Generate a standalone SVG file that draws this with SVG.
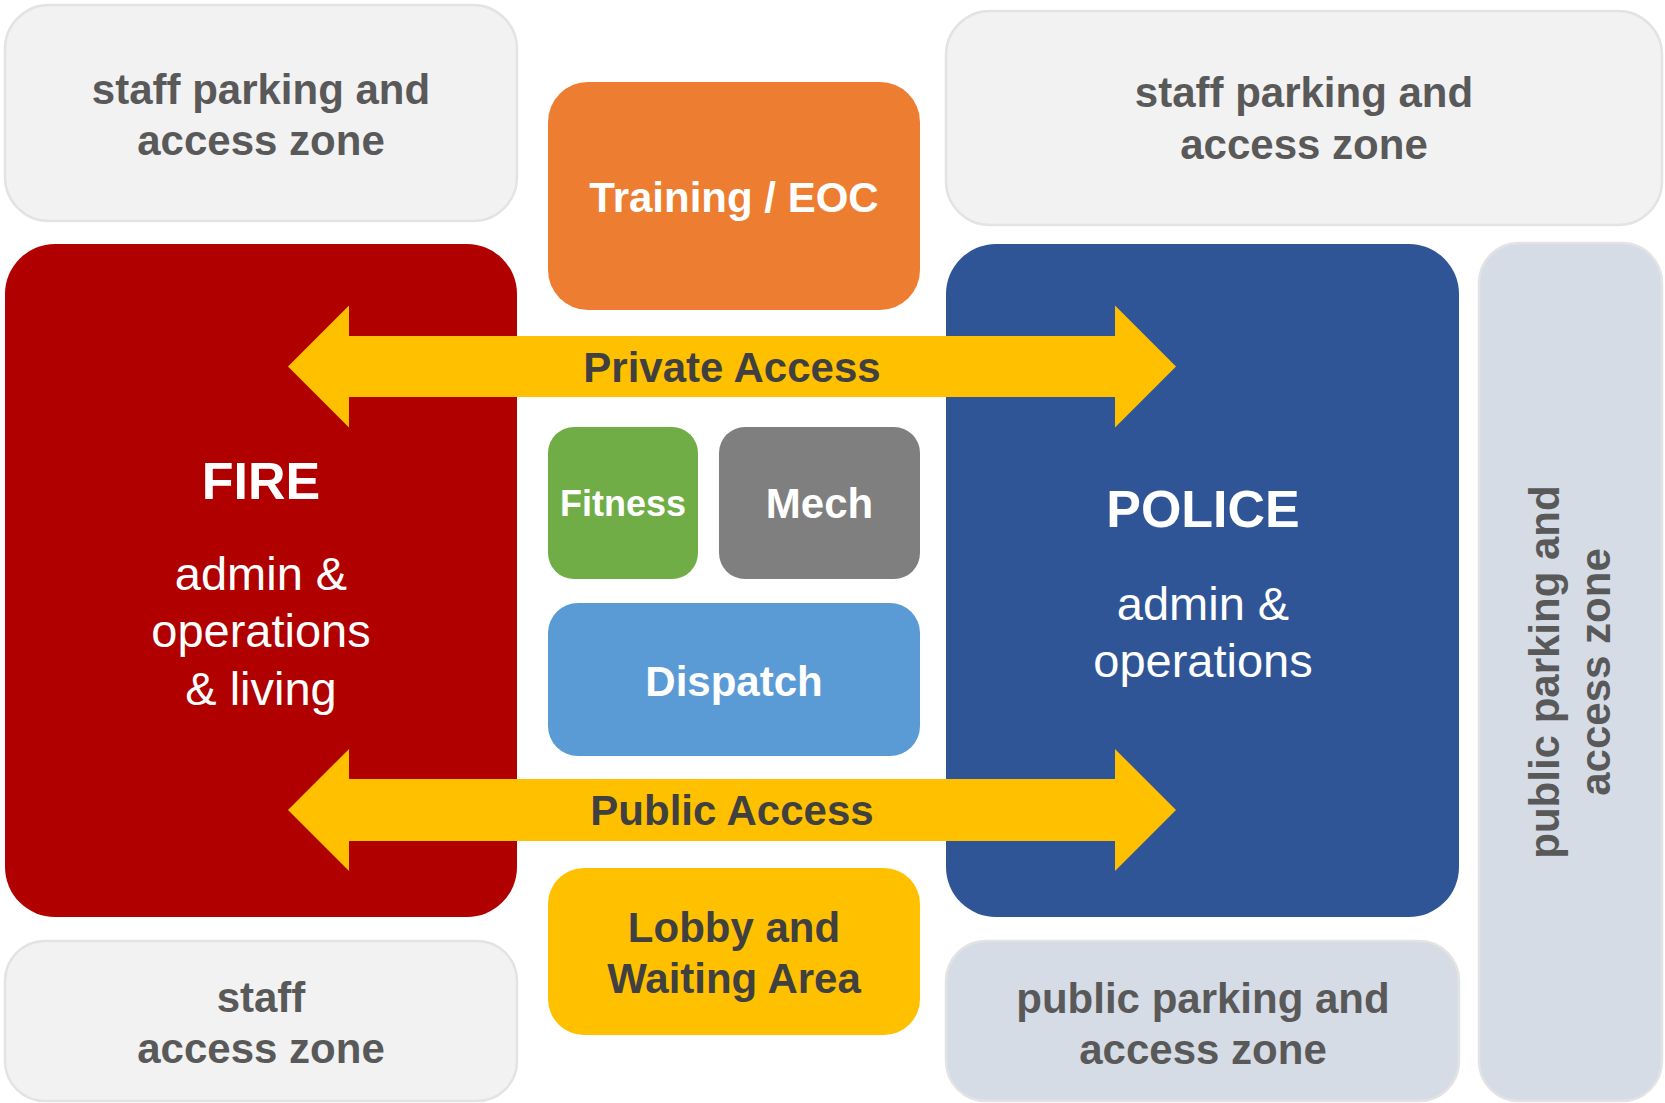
<svg xmlns="http://www.w3.org/2000/svg" width="1665" height="1103" viewBox="0 0 1665 1103">
<style>
text{font-family:"Liberation Sans",Arial,sans-serif;text-anchor:middle}
.zone{fill:#F2F2F2;stroke:#E3E3E3;stroke-width:2.5}
.pzone{fill:#D6DCE5;stroke:#E3E3E3;stroke-width:2.5}
.zt{font-size:42px;font-weight:bold;fill:#595959}
.wt{font-size:42px;font-weight:bold;fill:#FFFFFF}
.dt{font-size:42px;font-weight:bold;fill:#404040}
.big{font-size:52px;font-weight:bold;fill:#FFFFFF}
.reg{font-size:47px;fill:#FFFFFF}
.arrow{fill:#FFC000}
</style>
<rect width="1665" height="1103" fill="#FFFFFF"/>
<g id="staff-parking-left">
<rect class="zone" x="5" y="5" width="512" height="216" rx="44"/>
<text class="zt" x="261" y="104">staff parking and</text>
<text class="zt" x="261" y="155">access zone</text>
</g>
<g id="staff-parking-right">
<rect class="zone" x="946" y="11" width="716" height="214" rx="44"/>
<text class="zt" x="1304" y="107">staff parking and</text>
<text class="zt" x="1304" y="159">access zone</text>
</g>
<g id="training">
<rect x="548" y="82" width="372" height="228" rx="40" fill="#ED7D31"/>
<text class="wt" x="734" y="212">Training / EOC</text>
</g>
<g id="fire">
<rect x="5" y="244" width="512" height="673" rx="50" fill="#B00000"/>
</g>
<g id="police">
<rect x="946" y="244" width="513" height="673" rx="50" fill="#2F5597"/>
</g>
<g id="public-parking-right">
<rect class="pzone" x="1479" y="243" width="183" height="858" rx="40"/>
<g transform="translate(1570,672) rotate(-90)">
<text class="zt" x="0" y="-11">public parking and</text>
<text class="zt" x="0" y="40">access zone</text>
</g>
</g>
<g id="fitness">
<rect x="548" y="427" width="150" height="152" rx="26" fill="#70AD47"/>
<text x="623" y="516" style="font-size:36px;font-weight:bold;fill:#FFFFFF">Fitness</text>
</g>
<g id="mech">
<rect x="719" y="427" width="201" height="152" rx="26" fill="#7F7F7F"/>
<text class="wt" x="819.5" y="518">Mech</text>
</g>
<g id="dispatch">
<rect x="548" y="603" width="372" height="153" rx="30" fill="#5B9BD5"/>
<text class="wt" x="734" y="696">Dispatch</text>
</g>
<g id="lobby">
<rect x="548" y="868" width="372" height="167" rx="36" fill="#FFC000"/>
<text class="dt" x="734" y="942">Lobby and</text>
<text class="dt" x="734" y="993">Waiting Area</text>
</g>
<g id="staff-access">
<rect class="zone" x="5" y="941" width="512" height="160" rx="40"/>
<text class="zt" x="261" y="1012">staff</text>
<text class="zt" x="261" y="1063">access zone</text>
</g>
<g id="public-parking-bottom">
<rect class="pzone" x="946" y="941" width="513" height="160" rx="40"/>
<text class="zt" x="1203" y="1013">public parking and</text>
<text class="zt" x="1203" y="1064">access zone</text>
</g>
<g id="connectors">
<polygon class="arrow" points="288,366.5 349,305.5 349,336 1115,336 1115,305.5 1176,366.5 1115,427.5 1115,397 349,397 349,427.5"/>
<polygon class="arrow" points="288,810 349,749 349,779 1115,779 1115,749 1176,810 1115,871 1115,841 349,841 349,871"/>
<text class="dt" x="732" y="382">Private Access</text>
<text class="dt" x="732" y="825">Public Access</text>
</g>
<g id="fire-labels">
<text class="big" x="261" y="499">FIRE</text>
<text class="reg" x="261" y="590">admin &amp;</text>
<text class="reg" x="261" y="647">operations</text>
<text class="reg" x="261" y="705">&amp; living</text>
</g>
<g id="police-labels">
<text class="big" x="1203" y="527">POLICE</text>
<text class="reg" x="1203" y="620">admin &amp;</text>
<text class="reg" x="1203" y="677">operations</text>
</g>
</svg>
